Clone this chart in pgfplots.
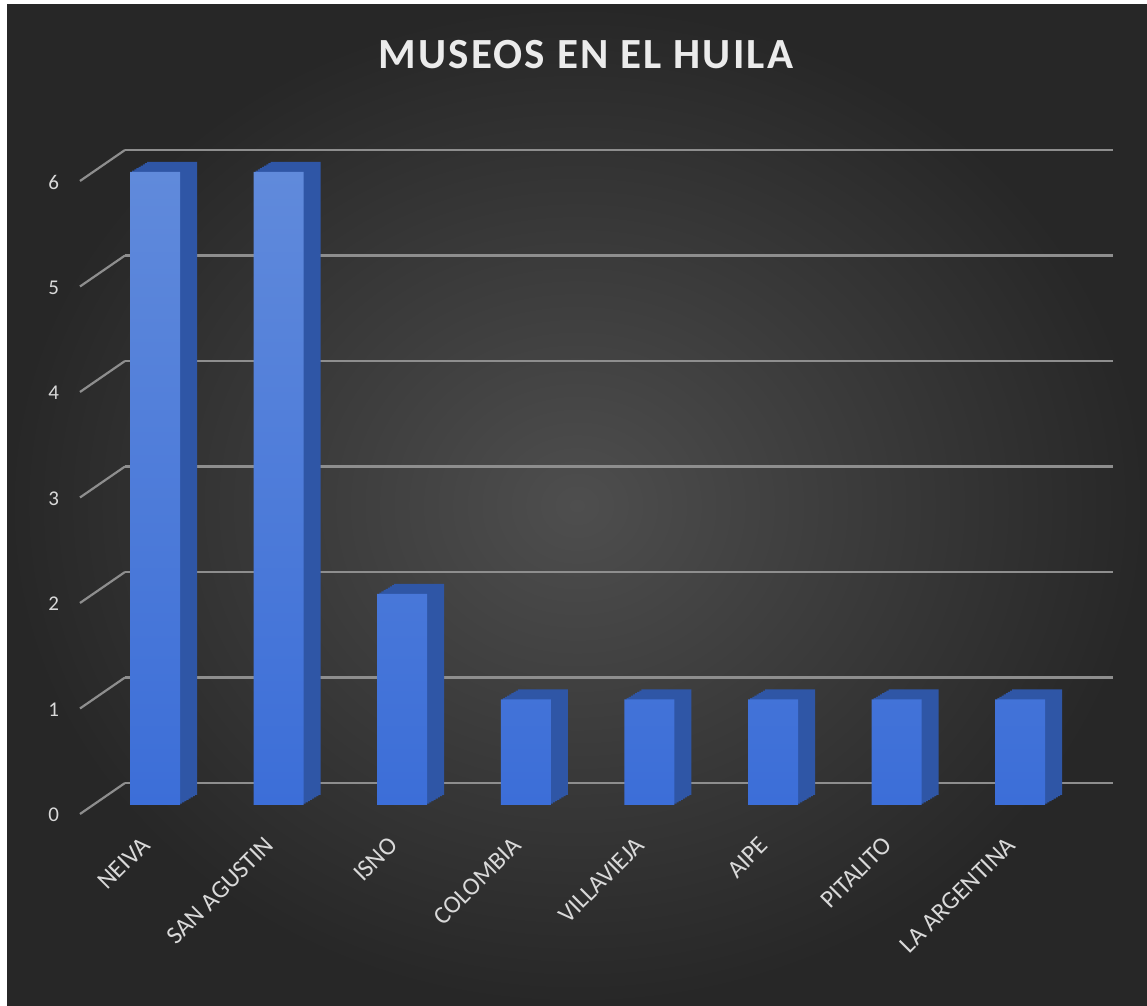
\documentclass[border=0pt]{standalone}
\usepackage{pgfplots}
\pgfplotsset{compat=1.18}
\usepackage{fontspec}
\setmainfont{Carlito}
\definecolor{bgin}{HTML}{4E4E4E}
\definecolor{bgout}{HTML}{272727}
\definecolor{gridc}{HTML}{8E8E8E}
\definecolor{frontTop}{HTML}{608ADB}
\definecolor{frontBot}{HTML}{3C6ED8}
\definecolor{sidec}{HTML}{2F56A6}
\definecolor{txt}{HTML}{D9D9D9}
\pgfplotstableread{
x val
0 6
1 6
2 2
3 1
4 1
5 1
6 1
7 1
}\museos
\begin{document}
\begin{tikzpicture}
% background (1px = 0.5pt)
\fill[white] (0,0) rectangle (573.5pt,503pt);
\shade[inner color=bgin, outer color=bgout] (3.5pt,0pt) rectangle (573.5pt,500.5pt);
% back wall grid
\begin{axis}[
  at={(62.5pt,111.5pt)}, anchor=south west,
  scale only axis, width=494pt, height=342.875pt,
  xmin=0, xmax=1, ymin=0, ymax=6.5,
  axis line style={draw=none},
  ytick={0,...,6}, yticklabels={}, xtick=\empty,
  major tick length=0pt,
  ymajorgrids, major grid style={gridc, line width=1.1pt},
]
\addplot[draw=none] coordinates {(0.5,1)};
\end{axis}
\foreach \k in {0,...,6} {
  \draw[gridc, line width=1.1pt] (40pt,{96pt+52.75pt*\k}) -- (62.5pt,{111.5pt+52.75pt*\k});
}
% bars
\begin{axis}[
  at={(40pt,100.5pt)}, anchor=south west,
  scale only axis, width=494pt, height=342.875pt,
  xmin=-0.6068, xmax=7.3867, ymin=0, ymax=6.5,
  clip=false,
  xtick={0,...,7},
  xticklabels={NEIVA,SAN AGUSTIN,ISNO,COLOMBIA,VILLAVIEJA,AIPE,PITALITO,LA ARGENTINA},
  ytick={0,...,6},
  major tick length=0pt,
  xticklabel style={rotate=45, anchor=north east, font=\fontsize{12.5}{14}\selectfont, text=txt, xshift=-12.5pt, yshift=-2pt},
  yticklabel style={font=\fontsize{10.5}{12}\selectfont, text=txt, xshift=-7pt, yshift=-5pt},
  /pgf/number format/assume math mode=true,
  axis line style={draw=none},
]
\pgfplotsinvokeforeach{8,7,6,5,4,3,2,1}{
  \addplot[ybar, bar width=25pt, bar shift=0pt, fill=sidec, draw=none,
    xshift={#1*1.0625pt}, yshift={#1*0.625pt}] table[x=x, y=val] {\museos};
}
\addplot[ybar, bar width=25pt, bar shift=0pt, draw=none,
  top color=frontTop, bottom color=frontBot] table[x=x, y=val] {\museos};
\end{axis}
\node[text=white!92!black, font=\fontsize{21.5}{25}\selectfont\bfseries\addfontfeatures{LetterSpace=5}] at (293pt,475.5pt) {MUSEOS EN EL HUILA};
\end{tikzpicture}
\end{document}
